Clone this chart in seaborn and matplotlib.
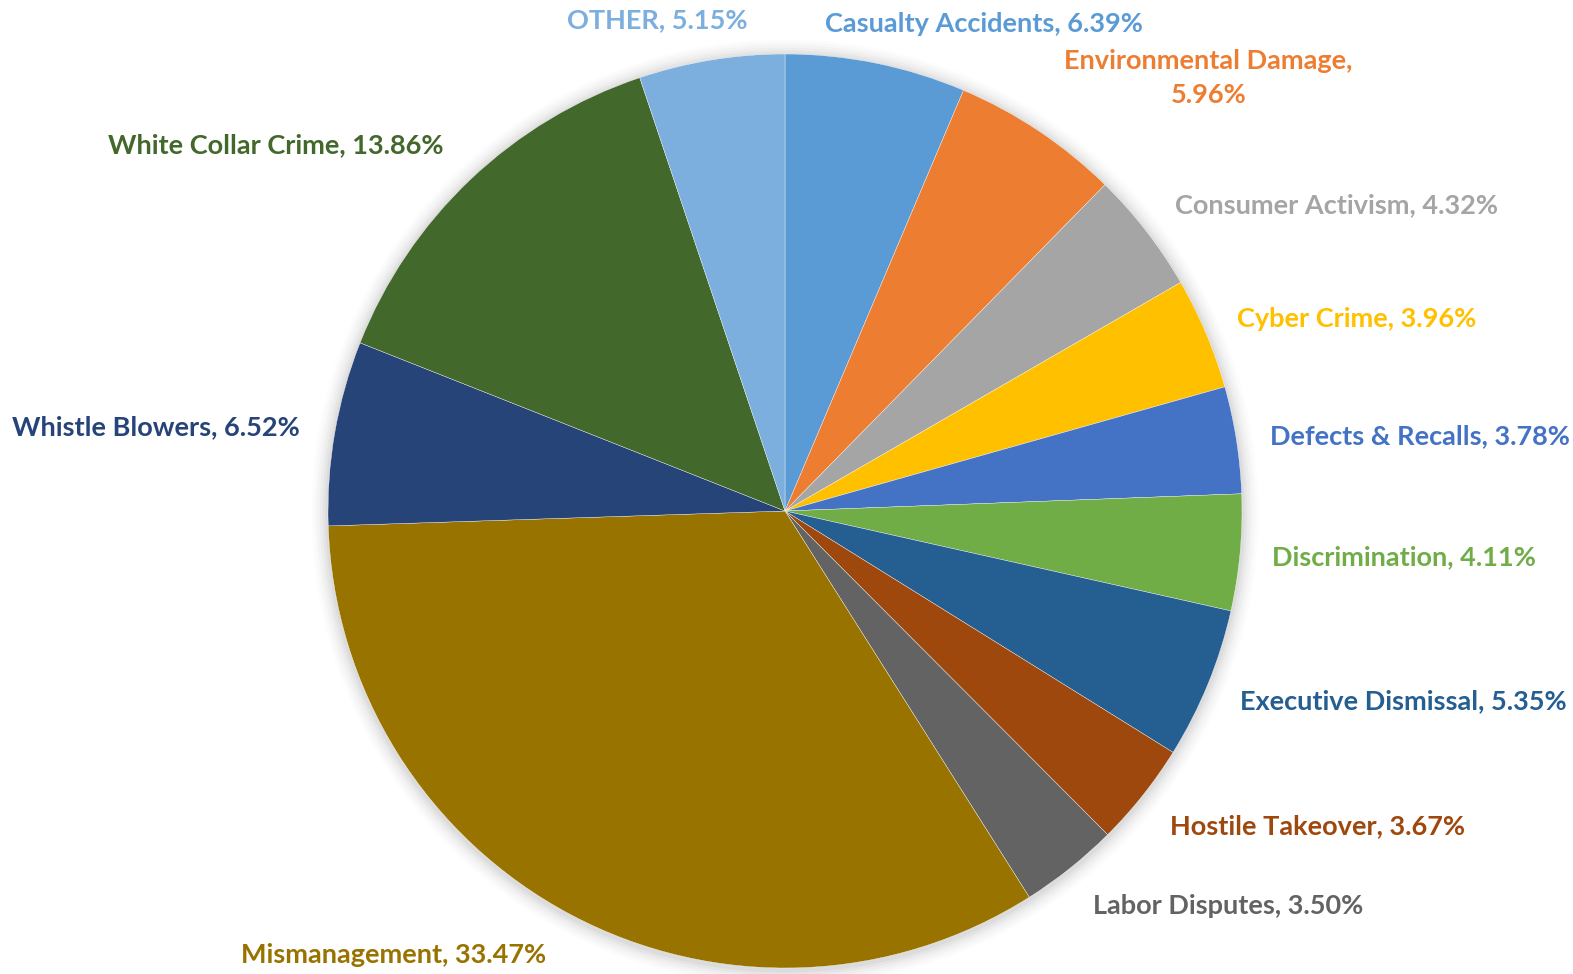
import matplotlib
matplotlib.use("Agg")
import matplotlib.pyplot as plt
import seaborn as sns

# Share of crisis events by category (percent), clockwise from 12 o'clock
categories = [
    "Casualty Accidents", "Environmental Damage", "Consumer Activism",
    "Cyber Crime", "Defects & Recalls", "Discrimination",
    "Executive Dismissal", "Hostile Takeover", "Labor Disputes",
    "Mismanagement", "Whistle Blowers", "White Collar Crime", "OTHER",
]
shares = [6.39, 5.96, 4.32, 3.96, 3.78, 4.11, 5.35, 3.67, 3.50,
          33.47, 6.52, 13.86, 5.15]

# Office-style palette, one colour per category
colors = ["#5B9BD5", "#ED7D31", "#A5A5A5", "#FFC000", "#4472C4", "#70AD47",
          "#255E91", "#9E480E", "#636363", "#997300", "#264478", "#43682B",
          "#7CAFDD"]

# Label anchors in pie units (radius = 1), with horizontal alignment
label_pos = [
    (0.088, 1.065, "left"),     # Casualty Accidents
    (0.927, 0.947, "center"),   # Environmental Damage (two lines)
    (0.853, 0.670, "left"),     # Consumer Activism
    (0.989, 0.420, "left"),     # Cyber Crime
    (1.061, 0.164, "left"),     # Defects & Recalls
    (1.066, -0.101, "left"),    # Discrimination
    (0.996, -0.416, "left"),    # Executive Dismissal
    (0.842, -0.689, "left"),    # Hostile Takeover
    (0.674, -0.864, "left"),    # Labor Disputes
    (-0.856, -0.972, "center"), # Mismanagement
    (-1.061, 0.184, "right"),   # Whistle Blowers
    (-0.748, 0.801, "right"),   # White Collar Crime
    (-0.081, 1.074, "right"),   # OTHER
]

sns.set_theme(style="white")
plt.rcParams["font.family"] = ["Lato", "DejaVu Sans"]

W, H, DPI = 1573, 974, 100
fig = plt.figure(figsize=(W / DPI, H / DPI), dpi=DPI)
fig.patch.set_facecolor("white")
ax = fig.add_axes([0, 0, 1, 1])

# Pie centre at pixel (785, 511) with radius 457 px
R, CX, CY = 457.0, 785.0, 511.0

# Soft drop shadow around the disc
for i, a in enumerate([0.035, 0.03, 0.025, 0.02, 0.015, 0.01]):
    ax.add_patch(plt.Circle((0.0, -0.004), 1.0 + 0.006 * (i + 1),
                            color="black", alpha=a, lw=0, zorder=0))

wedges, _ = ax.pie(
    shares, colors=colors, startangle=90, counterclock=False,
    radius=1.0, center=(0, 0), frame=True,
    wedgeprops=dict(edgecolor="white", linewidth=0.25),
)
ax.set_xlim(-CX / R, (W - CX) / R)
ax.set_ylim(-(H - CY) / R, CY / R)
ax.set_aspect("equal")
ax.axis("off")

for name, val, col, (lx, ly, ha) in zip(categories, shares, colors, label_pos):
    if name == "Environmental Damage":
        txt = f"{name},\n{val:.2f}%"
    else:
        txt = f"{name}, {val:.2f}%"
    ax.text(lx, ly, txt, color=col, fontsize=19.5, fontweight="bold",
            ha=ha, va="center", multialignment="center",
            linespacing=1.5, zorder=5, clip_on=False)

fig.savefig("out.png", dpi=DPI, facecolor="white")
